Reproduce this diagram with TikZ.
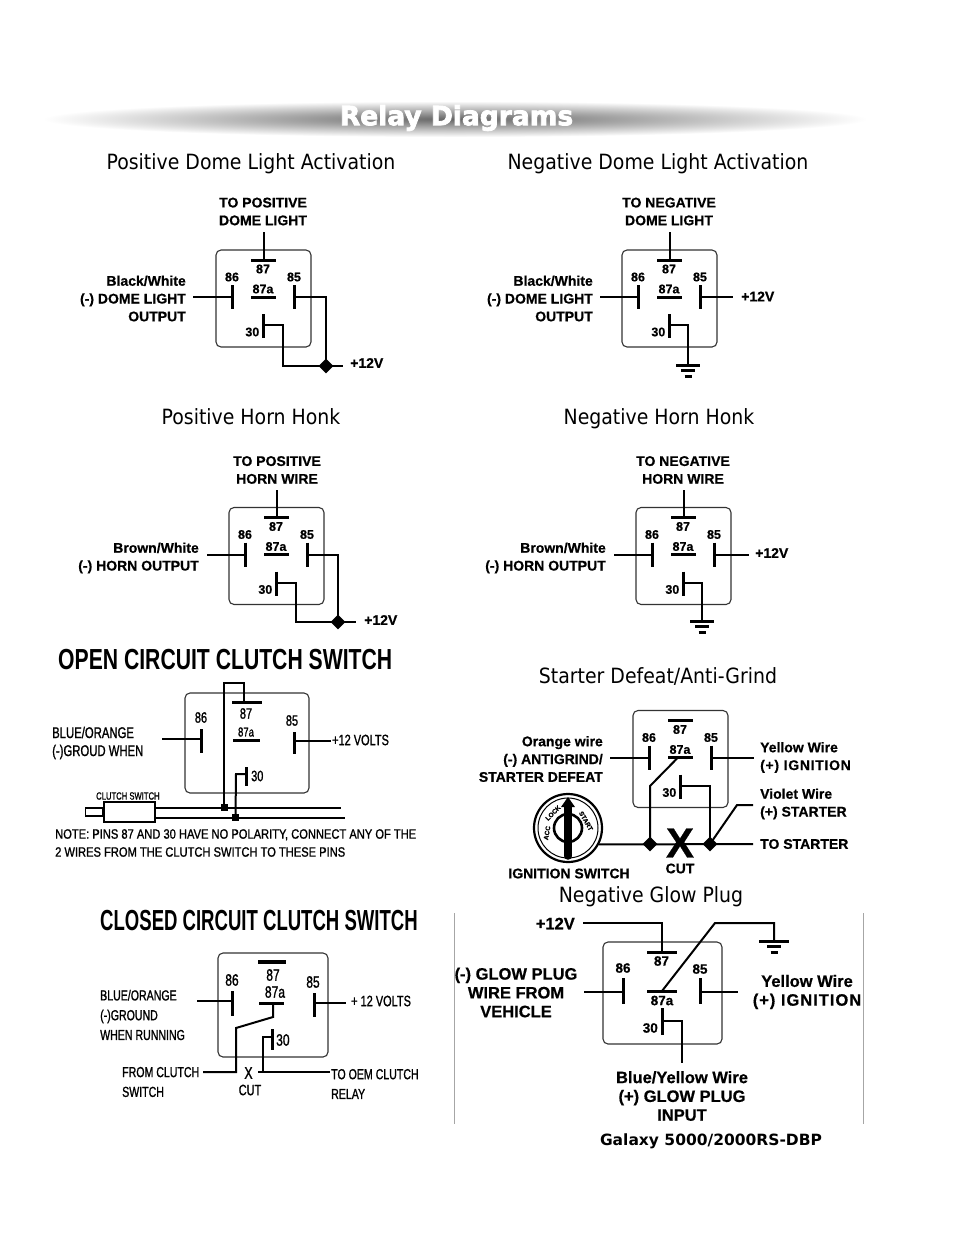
\documentclass[tikz,border=0pt]{standalone}
\usepackage{fontspec}
\usetikzlibrary{shapes.geometric}
\setmainfont{Liberation Sans}
\newfontfamily\headf[FakeStretch=0.9]{DejaVu Sans}
\newfontfamily\bannerf{DejaVu Sans Bold}
\newfontfamily\galf{DejaVu Sans Bold}
\newfontfamily\lblf[FakeBold=0.6]{Liberation Sans Bold}
\newfontfamily\condf[FakeStretch=0.73]{Liberation Sans Bold}
\newfontfamily\condk[FakeStretch=0.64]{Liberation Sans Bold}
\newfontfamily\condg[FakeStretch=0.73,FakeBold=1.1]{Liberation Sans}
\newfontfamily\condn[FakeStretch=0.825,FakeBold=1.1]{Liberation Sans}
\definecolor{boxc}{HTML}{333333}
\tikzset{
  wire/.style={line width=2, draw=black, line cap=butt, line join=miter},
  pinbar/.style={line width=3, draw=black},
  relaybox/.style={draw=boxc, line width=1.1, rounded corners=5, inner sep=0},
  junction/.style={diamond, fill=black, inner sep=0, minimum size=15},
  sq/.style={rectangle, fill=black, inner sep=0, minimum size=7},
  lab/.style={font=\lblf\fontsize{14}{17.8}\selectfont, inner sep=0, align=center},
  labr/.style={lab, anchor=east, align=right},
  labl/.style={lab, anchor=west, align=left},
  pinlab/.style={font=\lblf\fontsize{12.5}{13}\selectfont, inner sep=0},
  head/.style={font=\headf\fontsize{21}{24}\selectfont, inner sep=0, anchor=base},
  cond/.style={font=\condg\fontsize{15}{19.5}\selectfont, inner sep=0, anchor=west, align=left},
  condsm/.style={cond, font=\condg\fontsize{14.5}{19.8}\selectfont},
  condpin/.style={font=\condg\fontsize{16.5}{17}\selectfont, inner sep=0},
  glowl/.style={font=\lblf\fontsize{16.5}{18.8}\selectfont, inner sep=0, align=center},
  igtext/.style={font=\lblf\fontsize{6.5}{7}\selectfont, inner sep=0},
}
% standard relay: name, left, top
\newcommand{\stdrelay}[3]{%
  \begin{scope}[shift={(#2,#3)}]
    \node[relaybox, minimum width=95, minimum height=97] (#1box) at (47.5,48.5) {};
    \coordinate (#1p87) at (47.5,10);
    \coordinate (#1p87a) at (47.5,47);
    \coordinate (#1p86) at (16,47);
    \coordinate (#1p85) at (78.5,47);
    \coordinate (#1p30) at (47.5,75);
    \draw[pinbar] (35,10) -- (60,10);
    \draw[pinbar] (35,47) -- (60,47);
    \draw[pinbar] (16,35) -- (16,59);
    \draw[pinbar] (78.5,35) -- (78.5,59);
    \draw[pinbar] (47.5,64) -- (47.5,88);
    \node[pinlab] (#1t87) at (47,19) {87};
    \node[pinlab] (#1t87a) at (47,39) {87a};
    \node[pinlab] (#1t86) at (16,27) {86};
    \node[pinlab] (#1t85) at (78,27) {85};
    \node[pinlab,anchor=east] (#1t30) at (43.5,82) {30};
  \end{scope}}
% ground symbol hanging below a named coordinate
\newcommand{\gnd}[2]{%
  \draw[pinbar] ([xshift=-#2]#1) -- ([xshift=#2]#1);
  \draw[pinbar] ([xshift=-7,yshift=-5.5]#1) -- ([xshift=7,yshift=-5.5]#1);
  \draw[pinbar] ([xshift=-3.5,yshift=-11]#1) -- ([xshift=3.5,yshift=-11]#1);}
\begin{document}
\begin{tikzpicture}[x=1pt,y=-1pt]
\useasboundingbox (0,0) rectangle (954,1235);
\fill[white] (0,0) rectangle (954,1235);
% banner
\shade[inner color=black!60, outer color=white] (455,119) ellipse (412 and 18);
\node[inner sep=0] (banner) at (456.5,118) {\bannerf\fontsize{26.5}{28}\selectfont\special{pdf:code 2 Tr 0.8 w 0 G}\textcolor{white}{Relay Diagrams}\special{pdf:code 0 Tr}};
% headings
\node[head] (h1) at (251,169) {Positive Dome Light Activation};
\node[head] (h2) at (658,169) {Negative Dome Light Activation};
\node[head] (h3) at (251,424) {Positive Horn Honk};
\node[head] (h4) at (659,424) {Negative Horn Honk};
\node[head] (h5) at (658,683) {Starter Defeat/Anti-Grind};
\node[head] (h6) at (651,902) {Negative Glow Plug};

% ---- positive dome
\stdrelay{a}{216}{250}
\node[lab] (aTop) at (263,211.5) {TO POSITIVE\\DOME LIGHT};
\node[labr] (aL) at (186,298.5) {Black/White\\(-) DOME LIGHT\\OUTPUT};
\node[labl] (aV) at (350,363) {+12V};
\node[junction] (aJ) at (326,366) {};
\coordinate (aTopEnd) at (263,232);
\coordinate (aLEnd) at (193,297);
\coordinate (aVEnd) at (343,366);
\draw[wire] (aTopEnd -| ap87) -- (ap87);
\draw[wire] (aLEnd |- ap86) -- (ap86);
\draw[wire] (ap85) -| (aJ.center);
\draw[wire] (ap30) -- ++(19,0) |- (aJ.center);
\draw[wire] (aJ.center) -- (aVEnd);

% ---- negative dome
\stdrelay{b}{622}{250}
\node[lab] (bTop) at (669,211.5) {TO NEGATIVE\\DOME LIGHT};
\node[labr] (bL) at (593,298.5) {Black/White\\(-) DOME LIGHT\\OUTPUT};
\node[labl] (bV) at (741,296.5) {+12V};
\coordinate (bTopEnd) at (669,232);
\coordinate (bLEnd) at (600,297);
\coordinate (bVEnd) at (733,297);
\coordinate (bG) at (688,365);
\draw[wire] (bTopEnd -| bp87) -- (bp87);
\draw[wire] (bLEnd |- bp86) -- (bp86);
\draw[wire] (bp85) -- (bVEnd |- bp85);
\draw[wire] (bp30) -| (bG);
\gnd{bG}{12}

% ---- positive horn
\stdrelay{c}{229}{507.5}
\node[lab] (cTop) at (277,470) {TO POSITIVE\\HORN WIRE};
\node[labr] (cL) at (199,558) {Brown/White\\(-) HORN OUTPUT};
\node[labl] (cV) at (364,620) {+12V};
\node[junction] (cJ) at (338,622) {};
\coordinate (cTopEnd) at (277,490);
\coordinate (cLEnd) at (207,555);
\coordinate (cVEnd) at (356,622);
\draw[wire] (cTopEnd -| cp87) -- (cp87);
\draw[wire] (cLEnd |- cp86) -- (cp86);
\draw[wire] (cp85) -| (cJ.center);
\draw[wire] (cp30) -- ++(19,0) |- (cJ.center);
\draw[wire] (cJ.center) -- (cVEnd);

% ---- negative horn
\stdrelay{d}{636}{507.5}
\node[lab] (dTop) at (683,470) {TO NEGATIVE\\HORN WIRE};
\node[labr] (dL) at (606,558) {Brown/White\\(-) HORN OUTPUT};
\node[labl] (dV) at (755,553) {+12V};
\coordinate (dTopEnd) at (683,490);
\coordinate (dLEnd) at (614,555);
\coordinate (dVEnd) at (749,555);
\coordinate (dG) at (702,621);
\draw[wire] (dTopEnd -| dp87) -- (dp87);
\draw[wire] (dLEnd |- dp86) -- (dp86);
\draw[wire] (dp85) -- (dVEnd |- dp85);
\draw[wire] (dp30) -| (dG);
\gnd{dG}{12}

% ---- starter defeat
\stdrelay{e}{633}{710.5}
\node[labr] (eL) at (603,759) {Orange wire\\(-) ANTIGRIND/\\STARTER DEFEAT};
\node[labl] (eY) at (760,757.5) {Yellow Wire\\{\addfontfeature{LetterSpace=5}(+) IGNITION}};
\node[labl] (eVi) at (760,804) {Violet Wire\\(+) STARTER};
\node[labl] (eTS) at (760,844) {TO STARTER};
\node[lab] (eIS) at (569,873.5) {IGNITION SWITCH};
\node[lab] (eCut) at (680,868.5) {CUT};
\coordinate (eLEnd) at (610,757.5);
\coordinate (eYEnd) at (754,757.5);
\coordinate (eKink) at (650,786);
\coordinate (eFrom) at (678,757.5);
\coordinate (eTSEnd) at (753,844);
\coordinate (eViK) at (737,805);
\coordinate (eViE) at (753,805);
\node[circle,draw=black,line width=2.2,minimum size=68,inner sep=0] (ign) at (568,828) {};
\node[junction] (eJ1) at (650,844) {};
\node[junction] (eJ2) at (710,844) {};
\draw[wire] (eLEnd) -- (ep86);
\draw[wire] (ep85) -- (eYEnd);
\draw[wire] (eFrom) -- (eKink) -- (eJ1.center);
\draw[wire] (ep30) -| (eJ2.center);
\draw[wire] (ign.-28) -- (eTSEnd);
\draw[wire] (eJ2.center) -- (eViK) -- (eViE);
\node[inner sep=0,font=\lblf\fontsize{42}{42}\selectfont] (eX) at (680,843) {X};
\draw[line width=1] (ign.center) circle (30);
\draw[line width=2.6] (ign.center) circle (14);
\draw[line width=7.5,line cap=round] ([yshift=22]ign.center) -- ([yshift=-28]ign.center);
\fill ([yshift=31]ign.center) -- ([xshift=7,yshift=21]ign.center) -- ([xshift=-7,yshift=21]ign.center) -- cycle;
\node[igtext,rotate=80] (ig1) at (547,833) {ACC};
\node[igtext,rotate=45] (ig2) at (553,813) {LOCK};
\node[igtext,rotate=-60] (ig4) at (586,821) {START};

% ---- open circuit clutch switch
\node[font=\condf\fontsize{29}{30}\selectfont,inner sep=0,anchor=west] (oT) at (58,659.5) {OPEN CIRCUIT CLUTCH SWITCH};
\node[relaybox, minimum width=124, minimum height=100] (oBox) at (247,743) {};
\coordinate (o87) at (244,702);
\coordinate (o86) at (201,739);
\coordinate (o85) at (294,740.5);
\coordinate (o30) at (246,774);
\draw[pinbar] (232,702) -- (262,702);
\draw[pinbar] (233,740) -- (260,740);
\draw[pinbar] (201,729) -- (201,753);
\draw[pinbar] (294,732) -- (294,754);
\draw[pinbar] (246,767) -- (246,786);
\node[condpin,font=\condg\fontsize{15}{15}\selectfont] (ot87) at (246,713.5) {87};
\node[condpin,font=\condg\fontsize{13}{13}\selectfont] (ot87a) at (246,732) {87a};
\node[condpin,font=\condg\fontsize{15}{15}\selectfont] (ot86) at (201,717.5) {86};
\node[condpin,font=\condg\fontsize{15}{15}\selectfont] (ot85) at (292,720.5) {85};
\node[condpin,font=\condg\fontsize{15}{15}\selectfont,anchor=west] (ot30) at (251,776) {30};
\node[cond,font=\condg\fontsize{15.5}{18}\selectfont] (oL) at (52,743) {BLUE/ORANGE\\(-)GROUD WHEN};
\node[cond] (oV) at (332,740) {+12 VOLTS};
\node[cond,font=\condg\fontsize{10.5}{11}\selectfont] (oCS) at (96,796) {CLUTCH SWITCH};
\node[draw=black,line width=1.5,minimum width=51,minimum height=20,inner sep=0] (oSw) at (129.5,812) {};
\node[draw=black,line width=1.5,minimum width=17,minimum height=8,inner sep=0,anchor=east] (oStub) at (oSw.west) {};
\node[sq] (oS1) at (224,807.5) {};
\node[sq] (oS2) at (235.5,817.5) {};
\coordinate (oE1) at (341,808);
\coordinate (oE2) at (345,817.5);
\coordinate (oL86) at (162,739);
\coordinate (oL85) at (331,740.5);
\coordinate (oTopL) at (224,683);
\coordinate (oTopR) at (244,683);
\coordinate (oK30) at (236,774);
\draw[wire] (oL86) -- (o86);
\draw[wire] (o85) -- (oL85);
\draw[wire] (o87) -- (oTopR) -- (oTopL) -- (oS1.center);
\draw[wire] (o30) -- (oK30) -- (oS2.center);
\draw[wire] (oSw.east |- oE1) -- (oE1);
\draw[wire] (oSw.east |- oE2) -- (oE2);
\node[cond,font=\condn\fontsize{13.5}{18}\selectfont] (oN) at (55,843) {NOTE: PINS 87 AND 30 HAVE NO POLARITY, CONNECT ANY OF THE\\2 WIRES FROM THE CLUTCH SWITCH TO THESE PINS};

% ---- closed circuit clutch switch
\node[font=\condk\fontsize{29}{30}\selectfont,inner sep=0,anchor=west] (cT) at (100,920.5) {CLOSED CIRCUIT CLUTCH SWITCH};
\node[relaybox, minimum width=110, minimum height=104] (kBox) at (273,1005) {};
\coordinate (k86) at (232,1001);
\coordinate (k85) at (314,1003);
\coordinate (k87a) at (273,1003);
\coordinate (k30) at (272,1037);
\draw[pinbar,line width=3.6] (258,962) -- (286,962);
\draw[pinbar] (259,1003) -- (284,1003);
\draw[pinbar] (232,991) -- (232,1016);
\draw[pinbar] (314,993) -- (314,1017);
\draw[pinbar] (272,1029) -- (272,1050);
\node[condpin] (kt87) at (273,975) {87};
\node[condpin] (kt87a) at (275,992) {87a};
\node[condpin] (kt86) at (232,980) {86};
\node[condpin] (kt85) at (313,982) {85};
\node[condpin,anchor=west] (kt30) at (276,1040) {30};
\node[condsm] (kL) at (100,1015) {BLUE/ORANGE\\(-)GROUND\\WHEN RUNNING};
\node[cond] (kV) at (351,1001) {+ 12 VOLTS};
\node[condsm] (kF) at (122,1082) {FROM CLUTCH\\SWITCH};
\node[condsm] (kO) at (331,1084) {TO OEM CLUTCH\\RELAY};
\node[condpin,font=\condg\fontsize{17}{17}\selectfont] (kX) at (248.5,1073) {X};
\node[cond,anchor=center] (kCut) at (250,1090) {CUT};
\coordinate (kL86) at (197,1001);
\coordinate (kL85) at (346,1003);
\coordinate (kA) at (273,1017);
\coordinate (kB) at (236,1028);
\coordinate (kC) at (236,1072);
\coordinate (kD) at (203,1072);
\coordinate (kE) at (263,1037);
\coordinate (kF1) at (263,1072);
\coordinate (kG) at (258,1072);
\coordinate (kH) at (330,1072);
\draw[wire] (kL86) -- (k86);
\draw[wire] (k85) -- (kL85);
\draw[wire] (k87a) -- (kA) -- (kB) -- (kC) -- (kD);
\draw[wire] (k30) -- (kE) -- (kF1);
\draw[wire] (kG) -- (kH);

% ---- negative glow plug
\draw[black!35,line width=0.8] (454,913) -- (454,1124);
\draw[black!35,line width=0.8] (863,913) -- (863,1124);
\node[relaybox, minimum width=119, minimum height=102] (gBox) at (662.5,993) {};
\coordinate (g87) at (662,952);
\coordinate (g87a) at (662,991);
\coordinate (g86) at (623,992);
\coordinate (g85) at (700,992);
\coordinate (g30) at (662,1021);
\draw[pinbar] (647,952) -- (677,952);
\draw[pinbar] (647,991) -- (677,991);
\draw[pinbar] (623,978) -- (623,1004);
\draw[pinbar] (700,978) -- (700,1004);
\draw[pinbar] (662,1008) -- (662,1035);
\node[pinlab,font=\lblf\fontsize{13.5}{14}\selectfont] (gt87) at (661.5,961) {87};
\node[pinlab,font=\lblf\fontsize{13.5}{14}\selectfont] (gt87a) at (662,1000.5) {87a};
\node[pinlab,font=\lblf\fontsize{13.5}{14}\selectfont] (gt86) at (623,968) {86};
\node[pinlab,font=\lblf\fontsize{13.5}{14}\selectfont] (gt85) at (700,969) {85};
\node[pinlab,font=\lblf\fontsize{13.5}{14}\selectfont,anchor=east] (gt30) at (658,1028) {30};
\node[glowl] (gL) at (516,992.5) {(-) GLOW PLUG\\WIRE FROM\\VEHICLE};
\node[glowl] (gY) at (807,992) {Yellow Wire\\{\addfontfeature{LetterSpace=6}(+) IGNITION}};
\node[glowl] (gB) at (682,1096) {Blue/Yellow Wire\\(+) GLOW PLUG\\INPUT};
\node[glowl,anchor=east] (gV) at (575,923.5) {+12V};
\coordinate (gVE) at (583,923);
\coordinate (gK1) at (662,923);
\coordinate (gD) at (715,923);
\coordinate (gG) at (774,941);
\coordinate (gL86) at (584,992);
\coordinate (gR85) at (738,992);
\coordinate (gB30) at (682,1063);
\draw[wire] (gVE) -- (gK1) -- (g87);
\draw[wire] (g87a) -- (gD) -| (gG);
\draw[wire] (gL86) -- (g86);
\draw[wire] (g85) -- (gR85);
\draw[wire] (g30) -| (gB30);
\gnd{gG}{15}

\node[inner sep=0,font=\galf\fontsize{15.5}{16}\selectfont] (gal) at (711,1141.5) {Galaxy 5000/2000RS-DBP};
\end{tikzpicture}
\end{document}
